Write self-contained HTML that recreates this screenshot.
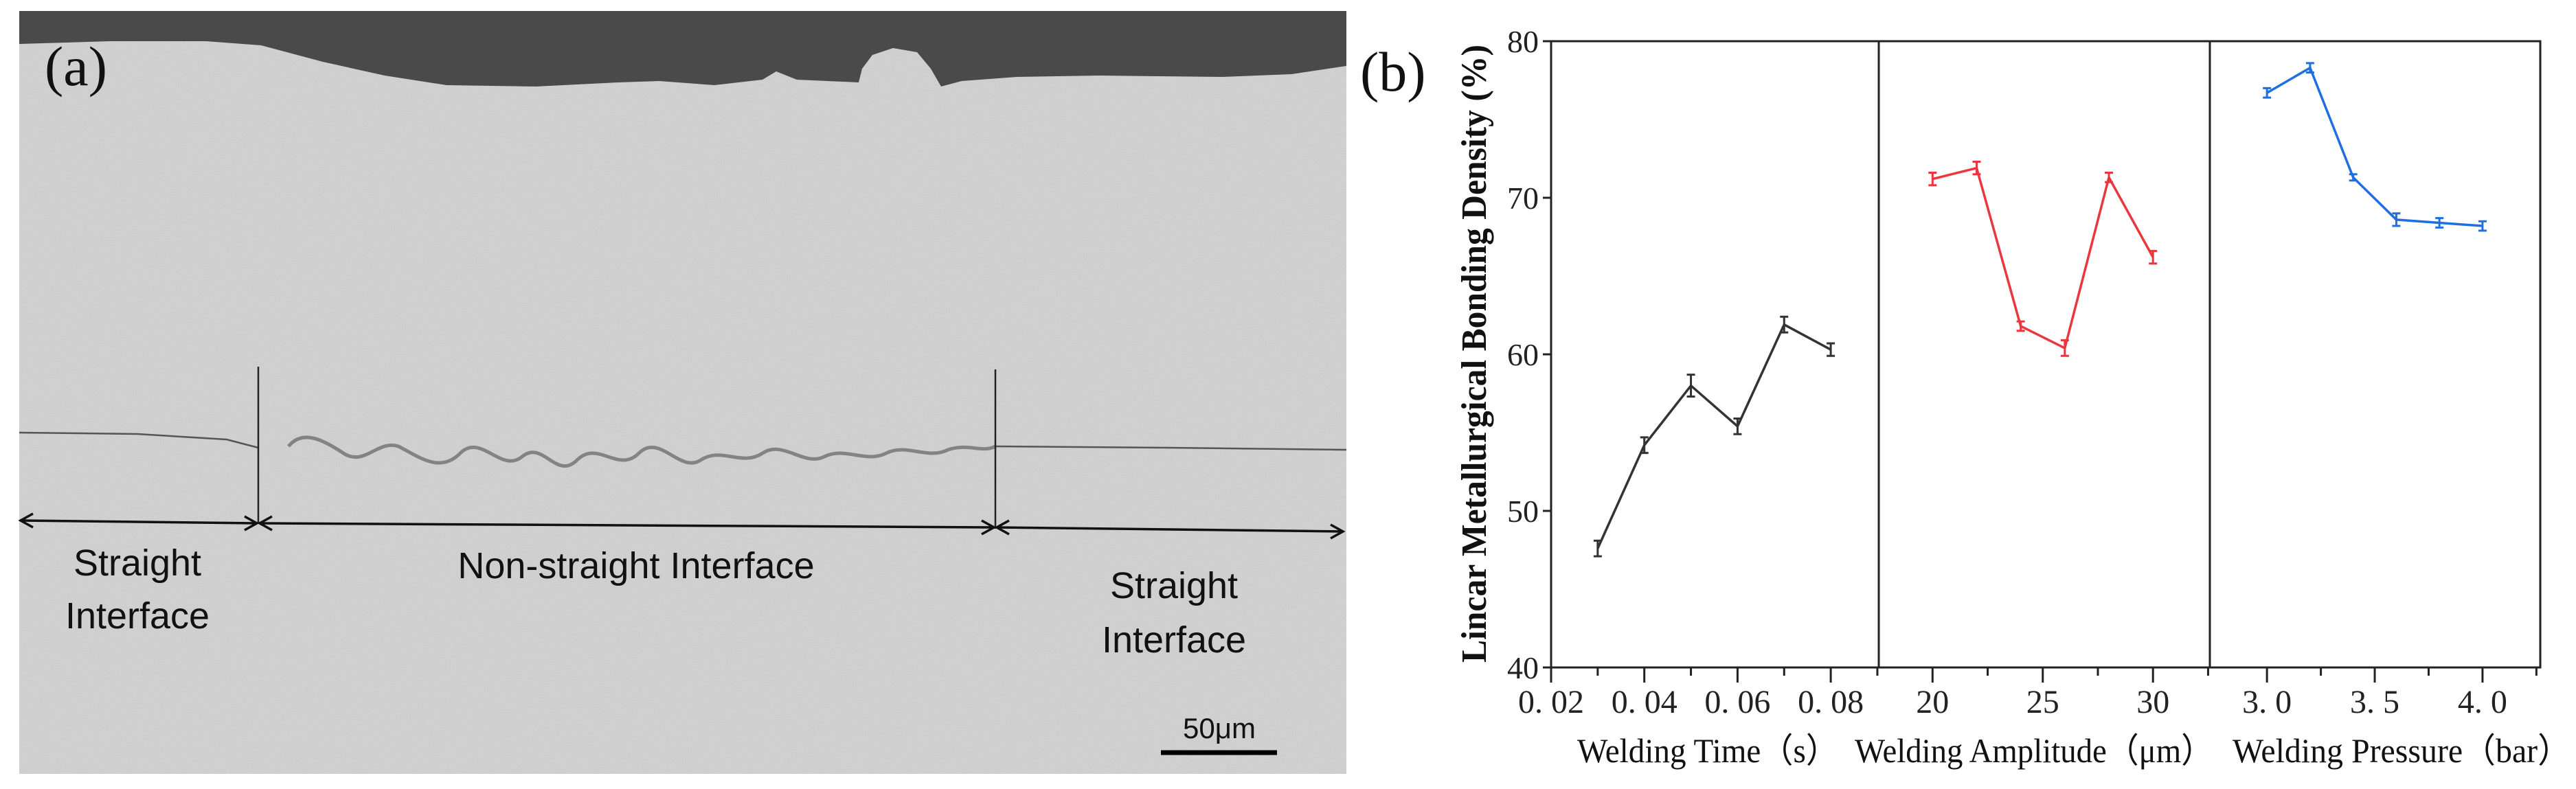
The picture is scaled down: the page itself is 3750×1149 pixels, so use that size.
<!DOCTYPE html>
<html><head><meta charset="utf-8"><style>
html,body{margin:0;padding:0;background:#fff;}
svg{display:block;}
</style></head><body>
<svg width="3750" height="1149" viewBox="0 0 3750 1149" xmlns="http://www.w3.org/2000/svg">
<defs>
<filter id="noise" x="0" y="0" width="100%" height="100%">
<feTurbulence type="fractalNoise" baseFrequency="0.9" numOctaves="2" seed="3"/>
<feColorMatrix type="matrix" values="0 0 0 0 0.78  0 0 0 0 0.78  0 0 0 0 0.78  0 0 0 -1.2 1.1"/>
</filter>
</defs>
<g>
<rect x="28" y="16" width="1932" height="1111" fill="#c6c6c6"/>
<rect x="28" y="16" width="1932" height="1111" filter="url(#noise)" opacity="0.6"/>
<path d="M28,16 L1960,16 L1960,96 L1880,108 L1780,112 L1600,110 L1480,112 L1400,118 L1370,126 L1355,100 L1335,76 L1300,70 L1270,80 L1255,100 L1250,120 L1160,116 L1130,104 L1110,116 L1040,124 L960,118 L900,120 L780,126 L650,124 L560,110 L470,90 L380,66 L300,60 L160,60 L28,64 Z" fill="#4a4a4a"/>
<path d="M28,630 L200,632 L330,640 L376,652" stroke="#555" stroke-width="2.5" fill="none"/>
<path d="M420,650 C440,625 470,640 500,660 C530,680 550,640 580,650 C610,665 640,690 670,660 C700,630 730,690 760,665 C790,640 810,700 840,670 C870,640 900,690 930,660 C960,630 990,690 1020,670 C1050,650 1080,680 1110,660 C1140,640 1170,680 1200,665 C1230,650 1260,675 1290,660 C1320,645 1350,670 1380,655 C1410,645 1430,660 1449,650" stroke="#6a6a6a" stroke-width="5" fill="none" opacity="0.75"/>
<path d="M1449,650 L1700,652 L1960,655" stroke="#555" stroke-width="2.5" fill="none"/>
<line x1="376" y1="534" x2="376" y2="762" stroke="#222" stroke-width="2.5"/>
<line x1="1449" y1="538" x2="1449" y2="770" stroke="#222" stroke-width="2.5"/>
<g stroke="#111" stroke-width="3.5" fill="none">
<line x1="30" y1="758" x2="374" y2="762"/><path d="M48,748 L30,758 L48,768 M356,752 L374,762 L356,772"/>
<line x1="378" y1="762" x2="1447" y2="768"/><path d="M396,752 L378,762 L396,772 M1429,758 L1447,768 L1429,778"/>
<line x1="1451" y1="768" x2="1955" y2="774"/><path d="M1469,758 L1451,768 L1469,778 M1937,764 L1955,774 L1937,784"/>
</g>
<g font-family="Liberation Sans, sans-serif" font-size="54" fill="#111" text-anchor="middle">
<text x="200" y="838">Straight</text>
<text x="200" y="915">Interface</text>
<text x="926" y="842">Non-straight Interface</text>
<text x="1709" y="871">Straight</text>
<text x="1709" y="950">Interface</text>
<text x="1775" y="1075" font-size="42">50μm</text>
</g>
<line x1="1690" y1="1096" x2="1859" y2="1096" stroke="#000" stroke-width="7"/>
<text x="65" y="124" font-family="Liberation Serif, serif" font-size="82" fill="#111">(a)</text>
</g>
<g id="chart"></g>
<text x="1980" y="132" font-family="Liberation Serif, serif" font-size="82" fill="#111">(b)</text>
</svg>
<script>
const yMin=40, yMax=80;
const yTicks=[40,50,60,70,80];
const timeX=[0.03,0.04,0.05,0.06,0.07,0.08];
const timeY=[47.6,54.2,58.0,55.4,61.9,60.3];
const timeErr=[0.5,0.5,0.7,0.5,0.5,0.4];
const ampX=[20,22,24,26,28,30];
const ampY=[71.2,71.9,61.8,60.4,71.3,66.2];
const ampErr=[0.4,0.4,0.3,0.5,0.3,0.4];
const presX=[3.0,3.2,3.4,3.6,3.8,4.0];
const presY=[76.7,78.3,71.3,68.6,68.4,68.2];
const presErr=[0.3,0.3,0.2,0.4,0.3,0.3];
const timeTicks=[0.02,0.04,0.06,0.08];
const timeTickLabels=["0. 02","0. 04","0. 06","0. 08"];
const ampTicks=[20,25,30];
const ampTickLabels=["20","25","30"];
const presTicks=[3.0,3.5,4.0];
const presTickLabels=["3. 0","3. 5","4. 0"];
const NS='http://www.w3.org/2000/svg';
const chartG=document.getElementById('chart');
const plotTop=60,plotBot=972;
function Y(v){return plotBot-(v-yMin)/(yMax-yMin)*(plotBot-plotTop);}
function mk(t,a){const e=document.createElementNS(NS,t);for(const k in a)e.setAttribute(k,a[k]);chartG.appendChild(e);return e;}
const panels=[
 {x0:2258,x1:2735,d0:0.02,d1:0.0903,xs:timeX,ys:timeY,es:timeErr,col:'#333333',ticks:timeTicks,labels:timeTickLabels,minor:0.01,title:'Welding Time（s）',tx:2296,tw:380,name:'time'},
 {x0:2735,x1:3217,d0:17.56,d1:32.58,xs:ampX,ys:ampY,es:ampErr,col:'#e8383d',ticks:ampTicks,labels:ampTickLabels,minor:2.5,title:'Welding Amplitude（μm）',tx:2700,tw:522,name:'amplitude'},
 {x0:3217,x1:3698,d0:2.735,d1:4.268,xs:presX,ys:presY,es:presErr,col:'#1f6fe0',ticks:presTicks,labels:presTickLabels,minor:0.25,title:'Welding Pressure（bar）',tx:3250,tw:492,name:'pressure'}
];
const frame=mk('rect',{x:2258,y:plotTop,width:3698-2258,height:plotBot-plotTop,fill:'none',stroke:'#222','stroke-width':3});


panels.forEach((p,i)=>{
 const X=v=>p.x0+(v-p.d0)/(p.d1-p.d0)*(p.x1-p.x0);
 if(i>0){const l=mk('line',{x1:p.x0,y1:plotTop,x2:p.x0,y2:plotBot,stroke:'#222','stroke-width':3});
  
  }
 for(let v=p.ticks[0];v<=p.d1+1e-9;v+=p.minor){
  const isMaj=p.ticks.some(t=>Math.abs(t-v)<1e-6);
  const t=mk('line',{x1:X(v),y1:plotBot,x2:X(v),y2:plotBot+(isMaj?22:12),stroke:'#222','stroke-width':3});
  
  
 }
 p.ticks.forEach((v,j)=>{
  const t=mk('text',{x:X(v),y:1038,'font-family':'Liberation Serif, serif','font-size':48,'text-anchor':'middle',fill:'#222'});
  t.textContent=p.labels[j];
  
  
 });
 const tt=mk('text',{x:p.tx,y:1110,'font-family':'Liberation Serif, "Noto Sans CJK SC", serif','font-size':50,textLength:p.tw,lengthAdjust:'spacingAndGlyphs',fill:'#111'});
 tt.textContent=p.title;
 
 
 const pts=p.xs.map((x,k)=>X(x)+','+Y(p.ys[k])).join(' ');
 const pl=mk('polyline',{points:pts,fill:'none',stroke:p.col,'stroke-width':3.5});
 
 
 p.xs.forEach((x,k)=>{
  const cx=X(x),a=Y(p.ys[k]+p.es[k]),b=Y(p.ys[k]-p.es[k]);
  const e=mk('path',{d:`M${cx},${a}L${cx},${b}M${cx-6},${a}L${cx+6},${a}M${cx-6},${b}L${cx+6},${b}`,stroke:p.col,'stroke-width':3,fill:'none'});
  
  
 });
});
yTicks.forEach(v=>{
 const t=mk('line',{x1:2246,y1:Y(v),x2:2258,y2:Y(v),stroke:'#222','stroke-width':3});
 
 
 const l=mk('text',{x:2240,y:Y(v)+16,'font-family':'Liberation Serif, serif','font-size':46,'text-anchor':'end',fill:'#222'});
 l.textContent=v;
 
 
});
const yt=mk('text',{x:-965,y:2163,'font-family':'Liberation Serif, serif','font-size':52,'font-weight':'bold',textLength:900,lengthAdjust:'spacingAndGlyphs',fill:'#111',transform:'rotate(-90)'});
yt.textContent='Lincar Metallurgical Bonding Density (%)';


</script>
</body></html>
